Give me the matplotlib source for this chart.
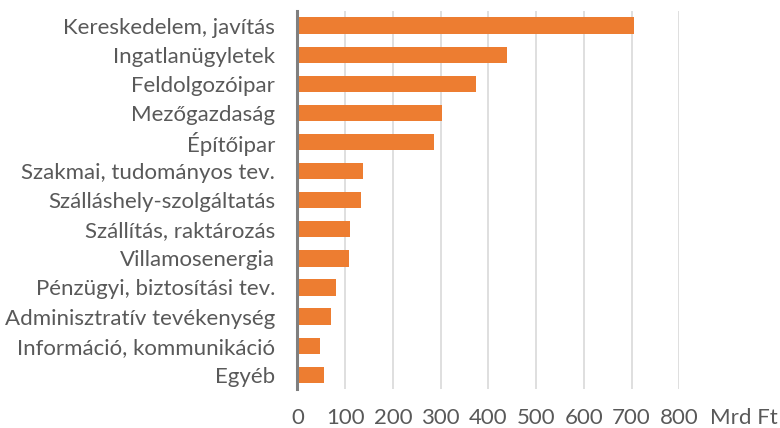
import matplotlib
matplotlib.use("Agg")
import matplotlib.pyplot as plt
import matplotlib.transforms as mtransforms

categories = [
    "Kereskedelem, javítás",
    "Ingatlanügyletek",
    "Feldolgozóipar",
    "Mezőgazdaság",
    "Építőipar",
    "Szakmai, tudományos tev.",
    "Szálláshely-szolgáltatás",
    "Szállítás, raktározás",
    "Villamosenergia",
    "Pénzügyi, biztosítási tev.",
    "Adminisztratív tevékenység",
    "Információ, kommunikáció",
    "Egyéb",
]
values = [705, 439, 374, 303, 286, 138, 133, 111, 109, 80, 71, 48, 56]
xticks = [0, 100, 200, 300, 400, 500, 600, 700, 800]
unit_label = "Mrd Ft"

plt.rcParams['font.family'] = ['Lato', 'DejaVu Sans']

fig = plt.figure(figsize=(7.8, 4.28), dpi=100)
ax = fig.add_axes([0.3812, 0.0904, 0.8709 - 0.3812, 0.9743 - 0.0904])

pos = list(range(len(categories)))
ax.barh(pos, values, height=0.56, color='#ED7D31', zorder=3)

ax.set_ylim(len(categories) - 0.5, -0.5)
ax.set_xlim(0, 800)
ax.set_yticks(pos)
ax.set_yticklabels(categories)
ax.set_xticks(xticks)
ax.set_xticklabels([str(t) for t in xticks])

fs = 16
ax.tick_params(axis='both', length=0, labelsize=fs, colors='#595959')
ax.tick_params(axis='y', pad=16)
for lab in ax.get_xticklabels():
    lab.set_verticalalignment('baseline')
ax.tick_params(axis='x', pad=25)

ax.grid(axis='x', color='#d9d9d9', linewidth=1.2, zorder=0)
for s in ['top', 'right', 'bottom']:
    ax.spines[s].set_visible(False)
ax.spines['left'].set_color('#7f7f7f')
ax.spines['left'].set_linewidth(2.2)
ax.spines['left'].set_zorder(4)

# unit label sits on the tick label baseline, right of the 800 tick
trans = mtransforms.blended_transform_factory(ax.transData, fig.transFigure)
ax.text(935, 4 / 428, unit_label, transform=trans, ha='center', va='baseline',
        fontsize=fs, color='#595959', clip_on=False)

fig.savefig("out.png", dpi=100)
